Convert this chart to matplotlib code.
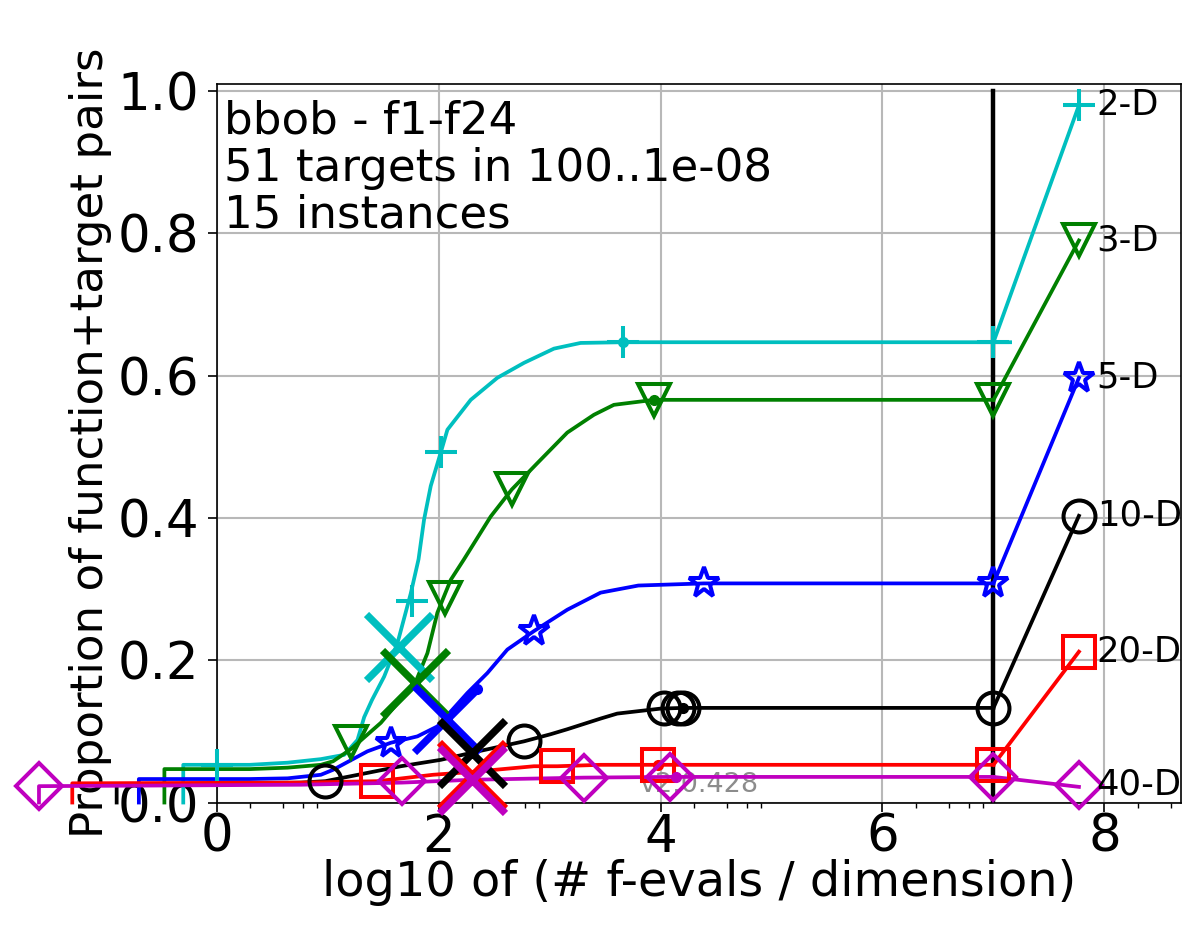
import numpy as np
import matplotlib
matplotlib.use("Agg")
import matplotlib.pyplot as plt

# ECDF curves, x = log10(# f-evals / dimension), y = proportion of pairs
dims = ["2-D", "3-D", "5-D", "10-D", "20-D", "40-D"]
colors = ["c", "g", "b", "k", "r", "m"]
markers = ["+", "v", "*", "o", "s", "D"]

x_2d = [-0.30, -0.30, 0.30, 0.64, 0.94, 1.15, 1.27, 1.33, 1.40, 1.51, 1.63, 1.75,
        1.82, 1.87, 1.93, 2.02, 2.08, 2.29, 2.53, 2.77, 3.04, 3.28, 3.66, 7.15]
y_2d = [0.0, 0.053, 0.053, 0.056, 0.061, 0.067, 0.088, 0.120, 0.144, 0.177, 0.224, 0.294,
        0.342, 0.398, 0.445, 0.492, 0.524, 0.566, 0.597, 0.618, 0.638, 0.646, 0.647, 0.647]
x_3d = [-0.47, -0.47, 0.30, 0.64, 0.94, 1.05, 1.21, 1.48, 1.66, 1.79, 1.90, 1.99,
        2.11, 2.23, 2.47, 2.66, 2.89, 3.16, 3.40, 3.58, 3.94, 7.0]
y_3d = [0.0, 0.047, 0.047, 0.049, 0.053, 0.058, 0.075, 0.112, 0.145, 0.168, 0.210, 0.267,
        0.313, 0.342, 0.402, 0.440, 0.477, 0.520, 0.545, 0.559, 0.566, 0.566]
x_5d = [-0.70, -0.70, 0.30, 0.64, 0.94, 1.05, 1.36, 1.57, 1.81, 1.99, 2.26, 2.44,
        2.62, 2.86, 3.16, 3.46, 3.80, 4.39, 7.0]
y_5d = [0.0, 0.033, 0.033, 0.034, 0.039, 0.046, 0.072, 0.084, 0.093, 0.107, 0.154, 0.182,
        0.215, 0.241, 0.271, 0.295, 0.305, 0.308, 0.308]
x_10d = [-0.90, -0.90, 0.76, 0.98, 1.21, 1.66, 2.02, 2.30, 2.77, 3.01, 3.16, 3.46,
         3.61, 4.00, 4.20, 7.0]
y_10d = [0.0, 0.025, 0.028, 0.030, 0.037, 0.051, 0.060, 0.070, 0.086, 0.096, 0.103, 0.118,
         0.125, 0.132, 0.133, 0.133]
x_20d = [-1.30, -1.30, 0.76, 1.45, 1.95, 2.30, 2.86, 3.07, 3.46, 3.98, 7.0]
y_20d = [0.0, 0.027, 0.028, 0.030, 0.039, 0.043, 0.051, 0.051, 0.053, 0.053, 0.053]
x_40d = [-1.60, -1.60, 0.76, 1.67, 2.30, 3.31, 4.09, 7.0]
y_40d = [0.0, 0.023, 0.025, 0.028, 0.032, 0.035, 0.036, 0.036]

# marker positions along each curve
mx_2d, my_2d = [0.0, 1.76, 2.02, 3.66, 7.0], [0.053, 0.283, 0.492, 0.647, 0.647]
mx_3d, my_3d = [1.21, 2.06, 2.66, 3.94, 7.0], [0.085, 0.288, 0.440, 0.566, 0.566]
mx_5d, my_5d = [1.57, 2.86, 4.39, 7.0], [0.084, 0.241, 0.308, 0.308]
mx_10d, my_10d = [0.98, 2.77, 4.03, 4.16, 4.20, 7.0], [0.030, 0.086, 0.133, 0.133, 0.133, 0.133]
mx_20d, my_20d = [1.45, 3.07, 3.98, 7.0], [0.030, 0.051, 0.053, 0.053]
mx_40d, my_40d = [-1.60, 1.67, 3.31, 4.09, 7.0], [0.023, 0.030, 0.035, 0.036, 0.036]

# last segment from the budget line to the final value
tail_x = [7.0, 7.77]
tail_start = [0.647, 0.566, 0.308, 0.133, 0.053, 0.036]
tail_end = [0.980, 0.790, 0.597, 0.403, 0.212, 0.022]
end_marker_y = [0.980, 0.790, 0.597, 0.403, 0.212, 0.025]

# big crosses and small dots
cross_x = [1.64, 1.79, 2.08, 2.30, 2.30, 2.30]
cross_y = [0.219, 0.168, 0.118, 0.070, 0.039, 0.032]
dot_x = [3.66, 3.94, 2.35, 4.20, 3.98, 4.14]
dot_y = [0.647, 0.566, 0.160, 0.133, 0.053, 0.036]

curves = [(x_2d, y_2d), (x_3d, y_3d), (x_5d, y_5d), (x_10d, y_10d), (x_20d, y_20d), (x_40d, y_40d)]
marks = [(mx_2d, my_2d), (mx_3d, my_3d), (mx_5d, my_5d), (mx_10d, my_10d), (mx_20d, my_20d), (mx_40d, my_40d)]

fig = plt.figure(figsize=(11.84, 9.31), dpi=100)
ax = fig.add_axes([0.1829, 0.138, 0.8146, 0.7718])

# budget line
ax.plot([7.0, 7.0], [0.0, 1.0], color="k", lw=3.2, zorder=2)

for i in range(len(dims)):
    c = colors[i]
    cx, cy = curves[i]
    mx, my = marks[i]
    ax.plot(cx, cy, color=c, lw=2.7, clip_on=False, zorder=3)
    ax.plot(tail_x, [tail_start[i], tail_end[i]], color=c, lw=2.7, clip_on=False, zorder=3)
    ax.plot(mx + [tail_x[1]], my + [end_marker_y[i]], ls="none", marker=markers[i], ms=23,
            mfc="none", mec=c, mew=2.9, clip_on=False, zorder=4)
    ax.plot(dot_x[i], dot_y[i], ls="none", marker="o", ms=7, color=c, zorder=4)
    ax.plot(cross_x[i], cross_y[i], ls="none", marker="x", ms=48, mew=5.3, color=c,
            clip_on=False, zorder=5)
    ax.text(7.93, end_marker_y[i], dims[i], fontsize=25.5, va="center", ha="left", zorder=6)

ax.set_xlim(0, 8.69)
ax.set_ylim(0, 1.01)
ax.set_xticks([0, 2, 4, 6, 8])
ax.set_yticks([0.0, 0.2, 0.4, 0.6, 0.8, 1.0])
ax.set_yticklabels(["0.0", "0.2", "0.4", "0.6", "0.8", "1.0"])
minor = [k + np.log10(s) for k in range(0, 10, 2) for s in (2, 4, 6, 8)]
ax.set_xticks([m for m in minor if m < 8.69], minor=True)
ax.tick_params(axis="both", which="major", labelsize=37, length=6.5, width=1.2, direction="out", pad=6)
ax.tick_params(axis="x", which="major", pad=1)
ax.tick_params(axis="x", which="minor", length=3.5, width=1.0, direction="out")
ax.grid(True, which="major", color="0.72", lw=1.5)
ax.set_axisbelow(True)
for s in ax.spines.values():
    s.set_linewidth(1.2)

ax.set_xlabel("log10 of (# f-evals / dimension)", fontsize=34.5, labelpad=-3)
ax.set_ylabel("Proportion of function+target pairs", fontsize=32.5, labelpad=4)

ax.text(0.008, 0.978, "bbob - f1-f24\n51 targets in 100..1e-08\n15 instances",
        transform=ax.transAxes, fontsize=32.5, va="top", ha="left", linespacing=1.12)
ax.text(0.5, 0.015, "v2.0.428", transform=ax.transAxes, fontsize=19.5, color="0.55",
        ha="center", va="baseline", zorder=2.5)

fig.savefig("out.png", dpi=100)
